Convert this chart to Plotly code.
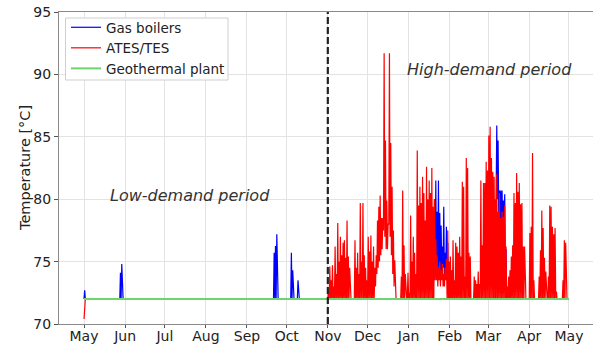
import pandas as pd
import plotly.graph_objects as go

GEO_SUPPLY = 72.0  # geothermal supply temperature [°C]

# ATES/TES outlet temperature, Nov 1 2023 - Apr 30 2024: daily midday peaks
ates_high = [
    72.7, 74.6, 73.5, 74.7, 73.0, 76.2, 74.0, 78.1, 75.0, 77.0,
    75.5, 76.5, 76.7, 75.3, 78.3, 75.4, 74.5, 72.0, 72.0, 72.0,
    76.7, 74.5, 75.7, 74.0, 79.7, 75.0, 79.7, 75.5, 74.5, 73.5,
    77.0, 75.8, 77.1, 75.0, 76.2, 74.5, 75.5, 78.3, 79.4, 80.3,
    78.5, 78.5, 91.7, 84.7, 79.9, 78.0, 91.7, 84.5, 81.0, 77.5,
    75.1, 72.0, 72.0, 72.0, 72.0, 73.8, 80.7, 76.3, 74.0, 72.0,
    74.1, 72.5, 78.7, 75.0, 77.0, 75.7, 74.0, 83.9, 79.5, 81.0,
    79.7, 81.8, 80.5, 78.3, 82.6, 80.0, 81.5, 80.5, 82.5, 79.4,
    80.0, 76.8, 75.5, 74.5, 75.0, 74.3, 74.8, 74.0, 74.5, 75.2,
    77.5, 75.0, 75.4, 74.3, 76.7, 73.5, 76.5, 76.2, 75.7, 77.0,
    75.4, 81.4, 81.0, 73.8, 83.3, 82.5, 75.7, 75.4, 72.0, 72.0,
    73.8, 73.5, 73.2, 74.2, 73.2, 81.5, 76.3, 81.3, 81.3, 83.0,
    82.3, 85.1, 85.8, 83.3, 82.2, 81.8, 80.0, 82.0, 79.0, 80.5,
    78.5, 79.0, 78.6, 79.5, 76.2, 73.0, 73.8, 74.3, 75.4, 76.3,
    80.5, 79.7, 82.1, 80.6, 81.3, 79.6, 79.7, 76.2, 76.2, 72.0,
    72.0, 72.0, 77.3, 77.8, 83.7, 73.5, 72.0, 72.0, 72.0, 73.8,
    75.9, 79.1, 77.7, 75.3, 74.2, 72.0, 73.8, 79.5, 79.4, 77.8,
    77.2, 77.7, 72.6, 72.0, 72.0, 72.0, 72.0, 73.5, 76.7, 76.5,
    72.0, 72.0,
]
# nightly minima that stay above the supply level (day offset from Nov 1)
ates_low_days = [36, 37, 38, 39, 40, 41, 42, 43, 44, 45, 46, 47, 48, 49, 50,
                 81, 82, 83, 84, 85, 86, 87, 88, 89]
ates_low_vals = [73.0, 74.0, 74.5, 75.0, 75.5, 76.0, 77.5, 77.0, 76.0, 76.0,
                 78.0, 77.0, 75.5, 74.0, 73.0,
                 73.5, 73.5, 73.0, 73.5, 73.0, 73.5, 73.0, 73.0, 73.5]
# storage start-up dip
ates_startup_time = "2023-05-01 00:00"
ates_startup_val = 70.4

# gas boiler top-ups during the low-demand season
boiler_event_times = ["2023-05-01 12:00", "2023-05-28 12:00", "2023-05-29 12:00",
                      "2023-09-21 12:00", "2023-09-22 12:00", "2023-09-23 12:00",
                      "2023-10-04 12:00", "2023-10-05 12:00", "2023-10-09 12:00"]
boiler_event_vals = [72.7, 74.1, 74.8, 75.7, 76.25, 77.2, 75.7, 74.3, 73.5]

# gas boiler boost periods in winter (daily peak / nightly minimum)
boiler_jan_start = "2024-01-20"
boiler_jan_high = [80.0, 81.5, 79.0, 81.5, 78.9, 77.9, 76.2, 79.4, 75.7, 77.8, 76.5, 73.3]
boiler_jan_low = [75.0, 74.5, 74.0, 74.5, 74.0, 74.0, 74.0, 74.5, 73.5, 74.0, 73.5, 72.5]
boiler_mar_start = "2024-03-07"
boiler_mar_high = [85.9, 84.7, 80.7, 80.7, 80.7, 79.9, 80.4, 76.0]
boiler_mar_low = [80.0, 80.0, 78.5, 78.5, 78.0, 77.5, 77.5, 74.0]

period_split = "2023-11-01"
x_ticks = pd.date_range("2023-05-01", "2024-05-01", freq="MS")
y_ticks = [70, 75, 80, 85, 90, 95]

# ---- build the 12-hourly series -------------------------------------------
grid = pd.date_range("2023-05-01", "2024-05-01", freq="12h")
half_day = pd.Timedelta(hours=12)

ates = pd.Series(GEO_SUPPLY, index=grid)
ates[pd.Timestamp(ates_startup_time)] = ates_startup_val
winter_days = pd.date_range(period_split, periods=len(ates_high), freq="D")
for day, val in zip(winter_days, ates_high):
    ates[day + half_day] = val
for d, val in zip(ates_low_days, ates_low_vals):
    ates[winter_days[d]] = val

boiler = pd.Series(GEO_SUPPLY, index=grid)
for t, val in zip(boiler_event_times, boiler_event_vals):
    boiler[pd.Timestamp(t)] = val
for start, highs, lows in [(boiler_jan_start, boiler_jan_high, boiler_jan_low),
                           (boiler_mar_start, boiler_mar_high, boiler_mar_low)]:
    days = pd.date_range(start, periods=len(highs), freq="D")
    for day, hi, lo in zip(days, highs, lows):
        boiler[day] = lo
        boiler[day + half_day] = hi

geo = pd.Series(GEO_SUPPLY, index=grid)

# ---- figure ----------------------------------------------------------------
W, H = 593, 345
M_L, M_R, M_T, M_B = 59, 0, 12, 21
PW, PH = W - M_L - M_R, H - M_T - M_B


def px_x(px):
    """pixel column -> paper x"""
    return (px - M_L) / PW


def px_y(px):
    """pixel row -> paper y"""
    return (H - M_B - px) / PH


FONT = "DejaVu Sans"
TEXT = "#222222"
fig = go.Figure()
fig.add_trace(go.Scatter(x=boiler.index, y=boiler.values, mode="lines", name="Gas boilers",
                         line=dict(color="#0000ff", width=1.2)))
fig.add_trace(go.Scatter(x=ates.index, y=ates.values, mode="lines", name="ATES/TES",
                         line=dict(color="#ff0000", width=1.2)))
fig.add_trace(go.Scatter(x=geo.index, y=geo.values, mode="lines", name="Geothermal plant",
                         line=dict(color="#6fd46f", width=2)))

# split between the two operating periods
fig.add_shape(type="line", xref="x", yref="paper", x0=period_split, x1=period_split,
              y0=0, y1=1, line=dict(color="#222222", width=2.2, dash="7px,3px"))

# legend frame (drawn as a shape so its size can be set exactly)
fig.add_shape(type="rect", xref="paper", yref="paper", layer="above",
              x0=px_x(65.5), x1=px_x(228), y0=px_y(80), y1=px_y(18),
              fillcolor="white", line=dict(color="#cfcfcf", width=1))

fig.add_annotation(x="2023-05-19", y=80.3, text="<i>Low-demand period</i>", showarrow=False,
                   xanchor="left", yanchor="middle", font=dict(family=FONT, size=16, color="#333333"))
fig.add_annotation(x="2023-12-29", y=90.4, text="<i>High-demand period</i>", showarrow=False,
                   xanchor="left", yanchor="middle", font=dict(family=FONT, size=16, color="#333333"))
# y-axis title
fig.add_annotation(xref="paper", yref="paper", x=px_x(25), y=0.5, text="Temperature [°C]",
                   textangle=-90, showarrow=False, xanchor="center", yanchor="middle",
                   font=dict(family=FONT, size=14.5, color=TEXT))

axis_common = dict(showgrid=True, gridcolor="#e3e3e3", gridwidth=1, showline=True,
                   linecolor="#8a8a8a", linewidth=1, mirror=True, ticks="outside",
                   tickcolor="#555555", zeroline=False, automargin=False,
                   tickfont=dict(family=FONT, size=14, color=TEXT))

fig.update_layout(
    width=W, height=H,
    margin=dict(l=M_L, r=M_R, t=M_T, b=M_B, autoexpand=False),
    paper_bgcolor="white", plot_bgcolor="white",
    font=dict(family=FONT, color=TEXT),
    xaxis=dict(range=["2023-04-12 03:00", "2024-05-19 03:00"], tickvals=x_ticks,
               tickformat="%b", ticklen=3, ticklabelstandoff=-4, **axis_common),
    yaxis=dict(range=[70, 95], tickvals=y_ticks, ticklen=4, **axis_common),
    legend=dict(x=px_x(66), y=px_y(12), xanchor="left", yanchor="top",
                bgcolor="rgba(0,0,0,0)", borderwidth=0, itemwidth=30,
                font=dict(family=FONT, size=13.5, color=TEXT)),
    showlegend=True,
)

fig.write_html("out.html")
